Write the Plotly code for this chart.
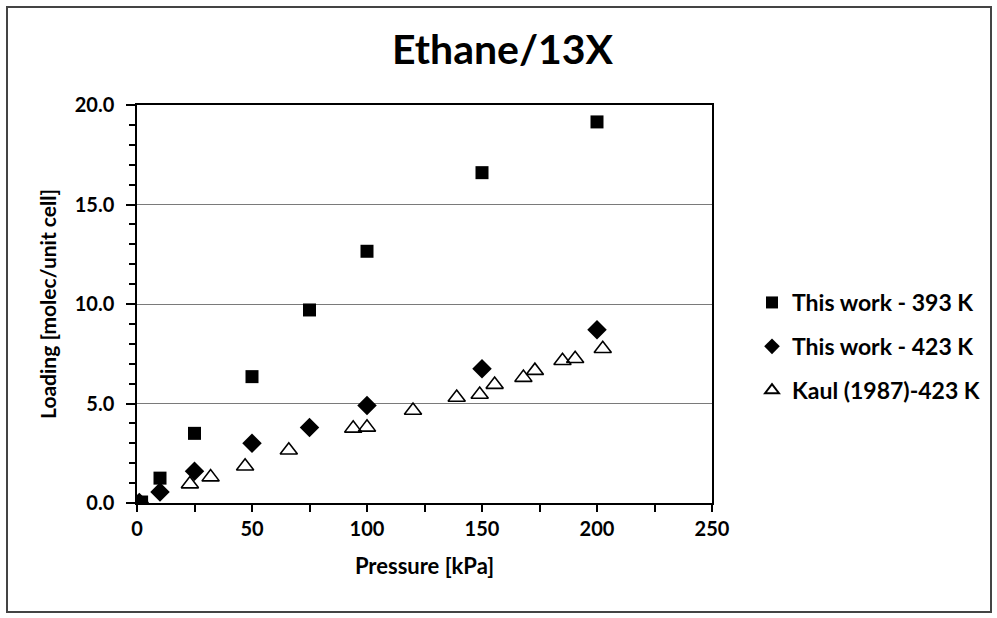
import plotly.graph_objects as go

# ---- data ----
p_393 = [2, 10, 25, 50, 75, 100, 150, 200]
load_393 = [0.05, 1.25, 3.5, 6.35, 9.7, 12.65, 16.6, 19.15]

p_423 = [1, 10, 25, 50, 75, 100, 150, 200]
load_423 = [0.03, 0.55, 1.6, 3.0, 3.8, 4.9, 6.75, 8.7]

p_kaul = [23, 32, 47, 66, 94, 100, 120, 139, 149, 155.5, 168, 173, 185, 190.5, 202.5]
load_kaul = [0.95, 1.3, 1.85, 2.65, 3.75, 3.8, 4.65, 5.3, 5.45, 5.95, 6.3, 6.65, 7.15, 7.25, 7.75]

names = ["This work - 393 K", "This work - 423 K", "Kaul (1987)-423 K"]
x_ticks = [0, 50, 100, 150, 200, 250]
y_ticks = [0, 5, 10, 15, 20]

W, H = 997, 618
L, R, T, B = 137, 712, 105, 503  # plot area in pixels

def px(x):
    return (x - L) / (R - L)

def py(y):
    return (B - y) / (B - T)

FONT = "Lato"

fig = go.Figure()
fig.add_trace(go.Scatter(
    x=p_393, y=load_393, mode="markers", name=names[0], legendgroup="a",
    marker=dict(symbol="square", size=13, color="black"),
))
fig.add_trace(go.Scatter(
    x=p_423, y=load_423, mode="markers", name=names[1], legendgroup="b",
    marker=dict(symbol="diamond", size=15, color="black"),
))
fig.add_trace(go.Scatter(
    x=p_kaul, y=load_kaul, mode="markers", name=names[2], legendgroup="c",
    marker=dict(symbol="triangle-up-open", size=15, color="black",
                line=dict(width=1.6, color="black")),
))

fig.update_layout(
    width=W, height=H, autosize=False,
    margin=dict(l=L, r=W - R, t=T, b=H - B, autoexpand=False),
    paper_bgcolor="white", plot_bgcolor="white",
    font=dict(family=FONT, size=16, color="black"),
    showlegend=True,
    legend=dict(
        x=px(752), y=py(281), xanchor="left", yanchor="top",
        font=dict(family=FONT, size=23, color="black", weight="bold"),
        traceorder="grouped", tracegroupgap=11, itemsizing="constant",
        bgcolor="rgba(0,0,0,0)",
    ),
)

fig.update_xaxes(
    range=[0, 250], tickvals=x_ticks, ticktext=[str(v) for v in x_ticks],
    ticks="outside", ticklen=7, tickcolor="black", tickwidth=1.5,
    minor=dict(dtick=25, tick0=0, ticks="outside", ticklen=7, tickcolor="black", tickwidth=1.5, showgrid=False),
    showline=True, linecolor="black", linewidth=1.5, mirror=True,
    showgrid=False, zeroline=False,
    tickfont=dict(family=FONT, size=20, color="black", weight="bold"),
    title=dict(text="Pressure [kPa]", font=dict(family=FONT, size=22, color="black", weight="bold"), standoff=20),
)
fig.update_yaxes(
    range=[0, 20], tickvals=y_ticks, ticktext=[f"{v:.1f}" for v in y_ticks],
    ticks="outside", ticklen=9, tickcolor="black", tickwidth=1.5,
    ticklabelstandoff=8,
    minor=dict(dtick=1, tick0=0, ticks="outside", ticklen=6, tickcolor="black", tickwidth=1.5, showgrid=False),
    showline=True, linecolor="black", linewidth=1.5, mirror=True,
    showgrid=True, gridcolor="#7a7a7a", gridwidth=1.2, zeroline=False,
    tickfont=dict(family=FONT, size=20, color="black", weight="bold"),
    title=dict(text="Loading [molec/unit cell]", font=dict(family=FONT, size=21, color="black", weight="bold"), standoff=12),
)

# Chart title
fig.add_annotation(
    text="Ethane/13X", xref="paper", yref="paper",
    x=px(503), y=py(48), xanchor="center", yanchor="middle",
    showarrow=False, font=dict(family=FONT, size=41, color="black", weight="bold"),
)

# Outer chart border
fig.add_shape(
    type="rect", xref="paper", yref="paper",
    x0=px(7), x1=px(991), y0=py(612), y1=py(7),
    line=dict(color="#444444", width=2), fillcolor="rgba(0,0,0,0)", layer="below",
)

fig.write_html("out.html")
